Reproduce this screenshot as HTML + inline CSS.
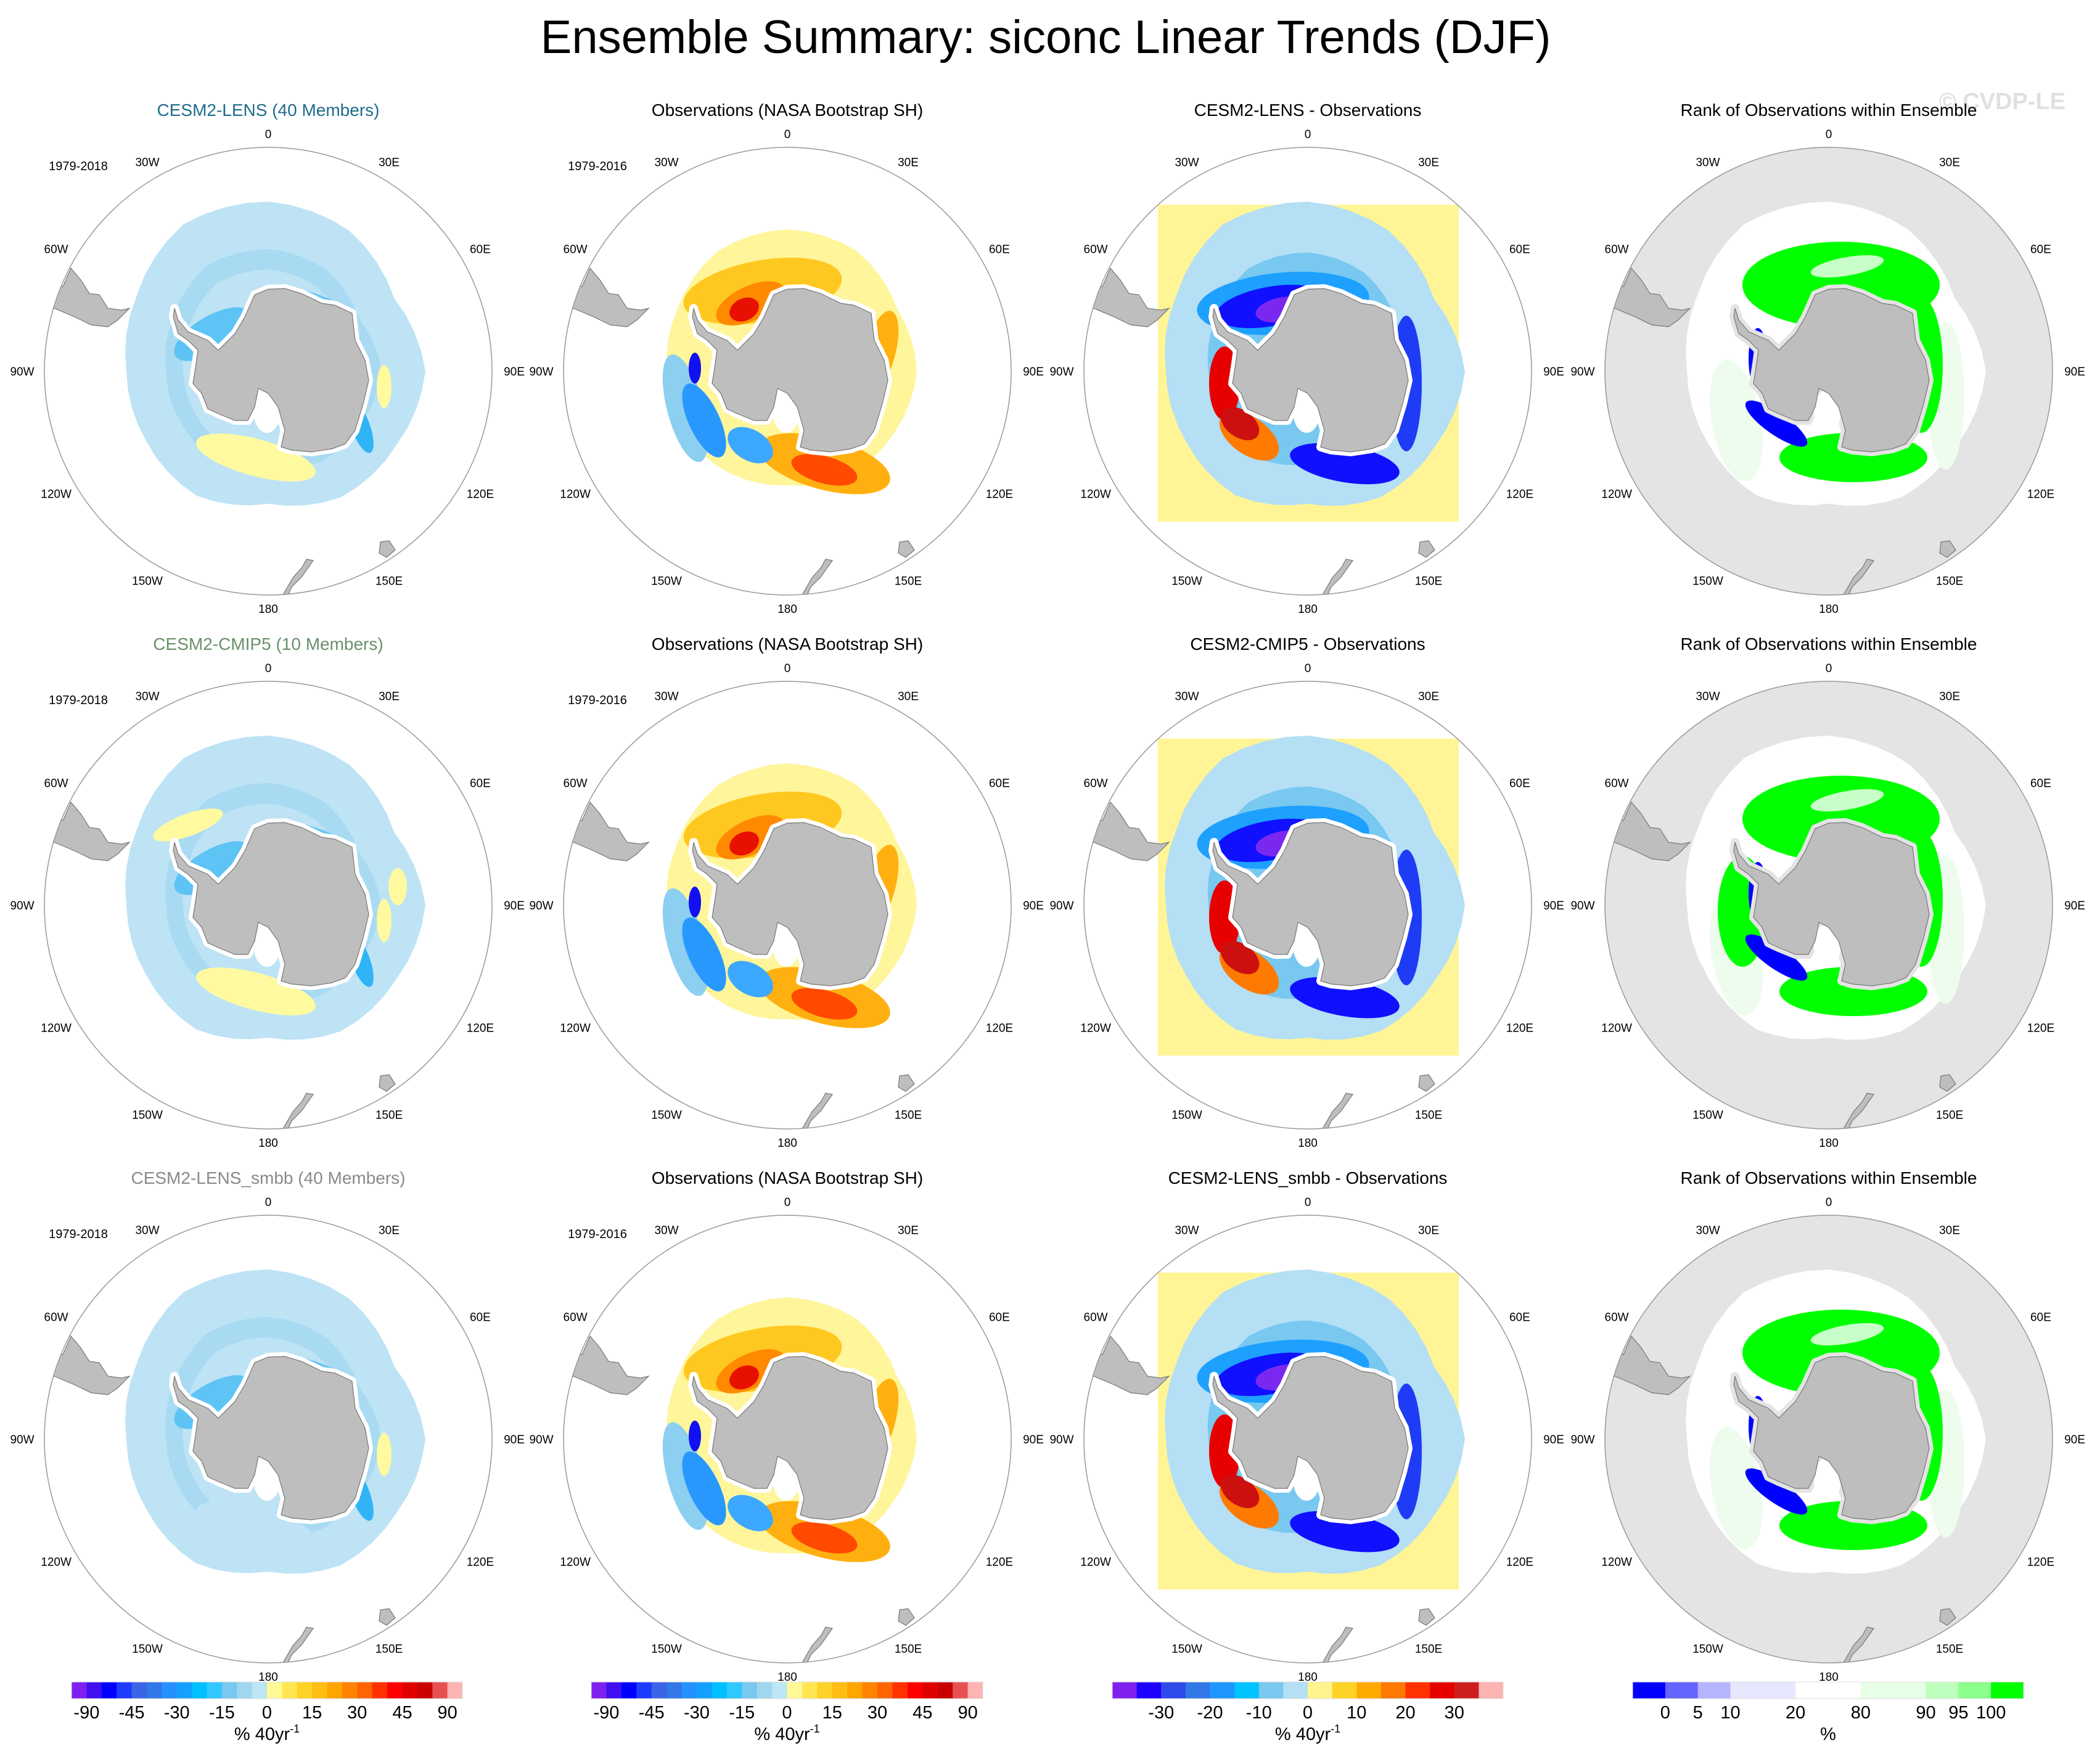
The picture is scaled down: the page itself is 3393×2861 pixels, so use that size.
<!DOCTYPE html>
<html><head><meta charset="utf-8"><style>
html,body{margin:0;padding:0;background:#fff;}
svg{display:block;font-family:"Liberation Sans",Arial,sans-serif;}
</style></head><body>
<svg id="fig" width="3393" height="2861" viewBox="0 0 3393 2861" xmlns="http://www.w3.org/2000/svg">
<text x="1696" y="86" font-size="76" text-anchor="middle" fill="#000">Ensemble Summary: siconc Linear Trends (DJF)</text>
<text x="3350" y="177" font-size="38" font-weight="bold" text-anchor="end" fill="#e0e0e0">© CVDP-LE</text>
<g id="panels"></g>
<g id="bars"></g>
</svg>
<script>
// ---- data arrays ----
const colCenters = [435, 1277, 2121, 2966];
const rowCenters = [602, 1468, 2334];
const rowTitles = [
  ["CESM2-LENS (40 Members)","Observations (NASA Bootstrap SH)","CESM2-LENS - Observations","Rank of Observations within Ensemble"],
  ["CESM2-CMIP5 (10 Members)","Observations (NASA Bootstrap SH)","CESM2-CMIP5 - Observations","Rank of Observations within Ensemble"],
  ["CESM2-LENS_smbb (40 Members)","Observations (NASA Bootstrap SH)","CESM2-LENS_smbb - Observations","Rank of Observations within Ensemble"]];
const titleColors = ["#1f6c8c","#6a8f6a","#8a8a8a"];
const yearLabels = ["1979-2018","1979-2016"];
const lonLabels = ["0","30E","60E","90E","120E","150E","180","150W","120W","90W","60W","30W"];
const trendColors = ["#8020f0","#4010f0","#0000ff","#1e3cff","#3c64e6","#3278e6","#2590ff","#14a0ff","#00bfff","#30c8ff","#78c8f0","#a0d7f0","#bee6f5","#fffa96","#ffe650","#ffd228","#ffbe14","#ffa500","#ff8200","#ff6400","#ff3200","#ff0000","#e10000","#c80000","#e65050","#ffb4b4"];
const trendTicks = ["-90","-45","-30","-15","0","15","30","45","90"];
const trendTickIdx = [1,4,7,10,13,16,19,22,25];
const diffColors = ["#8020f0","#1e00ff","#2d4beb","#3278e6","#1e96ff","#00c3ff","#78c8f0","#b4dff5","#fff58c","#ffd228","#ffaa00","#ff7800","#ff3200","#e60000","#cd1e1e","#ffb4b4"];
const diffTicks = ["-30","-20","-10","0","10","20","30"];
const diffTickIdx = [2,4,6,8,10,12,14];
const rankColors = ["#0000ff","#6464ff","#b4b4ff","#e6e6ff","#ffffff","#e6ffe6","#beffbe","#8cff8c","#00ff00"];
const rankBounds = [0,1,2,3,5,7,9,10,11,12];
const rankTicks = ["0","5","10","20","80","90","95","100"];
// geometry of features (relative px)
const antarctica = [[-38,-88],[-22,-124],[0,-133],[27,-134],[54,-126],[87,-110],[108,-107],[136,-94],[141,-50],[157,-18],[163,15],[154,53],[141,96],[125,118],[103,126],[70,131],[38,128],[21,123],[27,96],[16,58],[0,36],[-16,28],[-22,58],[-33,80],[-54,80],[-81,69],[-98,61],[-108,36],[-122,20],[-117,-12],[-114,-34],[-130,-50],[-146,-61],[-154,-88],[-152,-102],[-146,-83],[-130,-64],[-98,-50],[-81,-34],[-54,-61]];
const samerica = [[-333,-137],[-320,-167],[-304,-148],[-290,-126],[-274,-124],[-260,-102],[-238,-99],[-225,-102],[-244,-83],[-260,-72],[-287,-75],[-314,-88],[-347,-102],[-380,-80],[-380,-160]];
const nz = [[62,305],[73,307],[54,334],[38,350],[33,361],[22,372],[25,361],[40,335],[55,318]];
const tas = [[182,277],[196,275],[206,290],[192,302],[180,295]];
const iceOuter = [275,263,236,255,240,236,215,233,228,230,246,275];
const iceOuterObs = [230,225,205,210,200,195,185,190,195,195,205,225];
const NS="http://www.w3.org/2000/svg";
function el(tag,attrs,parent){const e=document.createElementNS(NS,tag);for(const k in attrs)e.setAttribute(k,attrs[k]);parent.appendChild(e);return e;}
function poly(pts,cx,cy){return pts.map(p=>(cx+p[0])+","+(cy+p[1])).join(" ");}
function blobPts(radii,cx,cy,sc){const n=radii.length,out=[];for(let i=0;i<n*4;i++){const a=i/(n*4)*2*Math.PI;const f=(i%4)/4;const r=(radii[Math.floor(i/4)]*(1-f)+radii[(Math.floor(i/4)+1)%n]*f)*sc;out.push((cx+r*Math.sin(a)).toFixed(1)+","+(cy-r*Math.cos(a)).toFixed(1));}return out.join(" ");}
const R=363;
const panels=document.getElementById('panels');
function ell(g,cx,cy,dx,dy,rx,ry,rot,fill){const e=el('ellipse',{cx:cx+dx,cy:cy+dy,rx:rx,ry:ry,fill:fill,transform:`rotate(${rot} ${cx+dx} ${cy+dy})`},g);}
let clipId=0;
rowCenters.forEach((cy,ri)=>{colCenters.forEach((cx,ci)=>{
  const g=el('g',{},panels);
  
  
  const t=el('text',{x:cx,y:cy-414,'font-size':28,'text-anchor':'middle',fill:ci==0?titleColors[ri]:'#000'},g);t.textContent=rowTitles[ri][ci];
  
  const id='c'+(clipId++);
  const cp=el('clipPath',{id:id},g);el('circle',{cx:cx,cy:cy,r:R},cp);
  const m=el('g',{'clip-path':`url(#${id})`},g);
  
  if(ci==3) el('circle',{cx:cx,cy:cy,r:R,fill:'#e4e4e4'},m);
  if(ci==0){
    el('polygon',{points:blobPts(iceOuter,cx,cy,1),fill:'#bde3f5'},m);
    el('polygon',{points:blobPts(iceOuter,cx,cy,0.72),fill:'#a8daf2'},m);
    el('polygon',{points:blobPts(iceOuter,cx,cy,0.6),fill:'#bde3f5'},m);
    ell(m,cx,cy,-90,-60,70,30,-30,'#5ec3f5');
    ell(m,cx,cy,60,-110,70,20,15,'#6cc6f2');
    ell(m,cx,cy,150,90,15,45,-20,'#30b4f5');
    ell(m,cx,cy,-20,140,100,30,15,ri==2?'#bde3f5':'#fffaa0');
    if(ri==1){ell(m,cx,cy,-130,-130,60,18,-20,'#fffaa0');ell(m,cx,cy,210,-30,15,30,0,'#fffaa0');}
    ell(m,cx,cy,188,25,12,35,0,'#fffaa0');
  } else if(ci==1){
    el('polygon',{points:blobPts(iceOuterObs,cx,cy,1),fill:'#fff59a'},m);
    ell(m,cx,cy,-40,-130,130,50,-10,'#ffc820');
    ell(m,cx,cy,-60,-110,60,28,-25,'#ff8a00');
    ell(m,cx,cy,-70,-100,25,18,-25,'#e81000');
    ell(m,cx,cy,60,150,110,42,15,'#ffb010');
    ell(m,cx,cy,60,160,55,22,15,'#ff4a00');
    ell(m,cx,cy,150,-30,25,70,15,'#ffb010');
    ell(m,cx,cy,-165,60,30,90,-15,'#8ccff0');
    ell(m,cx,cy,-135,80,25,65,-25,'#2898ff');
    ell(m,cx,cy,-150,-5,10,25,0,'#1010f0');
    ell(m,cx,cy,-60,120,40,25,30,'#3ca8ff');
  } else if(ci==2){
    el('rect',{x:cx-243,y:cy-270,width:488,height:514,fill:'#fff596'},m);
    el('polygon',{points:blobPts(iceOuter,cx,cy,1),fill:'#b4dff5'},m);
    el('polygon',{points:blobPts(iceOuter,cx,cy,0.7),fill:'#78c8f0'},m);
    ell(m,cx,cy,-40,-110,140,50,-5,'#1ea0ff');
    ell(m,cx,cy,-60,-105,90,32,-10,'#1010ff');
    ell(m,cx,cy,-40,-100,45,20,-10,'#7a28f0');
    ell(m,cx,cy,160,20,25,110,0,'#1e3cf5');
    ell(m,cx,cy,60,150,90,30,10,'#1010ff');
    ell(m,cx,cy,-135,20,25,60,0,'#e60000');
    ell(m,cx,cy,-95,105,55,30,35,'#ff7a00');
    ell(m,cx,cy,-110,85,35,22,35,'#cc1010');
  } else {
    el('polygon',{points:blobPts(iceOuter,cx,cy,1),fill:'#ffffff'},m);
    ell(m,cx,cy,-150,80,40,100,-10,'#eefcee');
    ell(m,cx,cy,190,40,30,120,0,'#eefcee');
    ell(m,cx,cy,20,-140,160,70,0,'#00ff00');
    ell(m,cx,cy,150,-10,35,110,0,'#00ff00');
    ell(m,cx,cy,40,140,120,40,0,'#00ff00');
    if(ri==1){ell(m,cx,cy,-140,10,40,90,0,'#00ff00');}
    ell(m,cx,cy,-115,-20,15,50,0,'#0000ff');
    ell(m,cx,cy,-85,85,60,18,35,'#0000ff');
    ell(m,cx,cy,30,-170,60,15,-10,'#c8ffc8');
  }
  // white coastal halo, land
  el('polygon',{points:poly(antarctica,cx,cy),fill:ci==3?'#e4e4e4':'#fff',stroke:ci==3?'#e4e4e4':'#fff','stroke-width':14,'stroke-linejoin':'round'},m);
  el('ellipse',{cx:cx-2,cy:cy+65,rx:22,ry:35,fill:'#fff'},m);
  [antarctica,samerica,nz,tas].forEach(p=>{el('polygon',{points:poly(p,cx,cy),fill:'#bebebe',stroke:'#777','stroke-width':1.2},m);});
  const c=el('circle',{cx:cx,cy:cy,r:R,fill:'none',stroke:'#999','stroke-width':1.5},g);
  
  lonLabels.forEach((lab,i)=>{const a=i*30*Math.PI/180;const d=R+22+14*Math.abs(Math.sin(a));
    const tx=el('text',{x:(cx+d*Math.sin(a)).toFixed(1),y:(cy-d*Math.cos(a)+7).toFixed(1),'font-size':19,'text-anchor':'middle'},g);tx.textContent=lab;
    });
  if(ci<2){const y=el('text',{x:cx-308,y:cy-326,'font-size':20,'text-anchor':'middle'},g);y.textContent=yearLabels[ci];
    }
});});
// colorbars
const bars=document.getElementById('bars');
const BY=2728,BH=27;
function unit(g,x,txt,sup){const t=el('text',{x:x,y:2822,'font-size':29,'text-anchor':'middle'},g);t.textContent=txt;
  
  if(sup){const s=el('tspan',{dy:-12,'font-size':18},t);s.textContent=sup;}}
function evenBar(x0,x1,cols,ticks,idx,name){const g=el('g',{},bars);
  const w=(x1-x0)/cols.length;cols.forEach((c,i)=>{const r=el('rect',{x:x0+i*w,y:BY,width:w+0.5,height:BH,fill:c},g);});
  el('rect',{x:x0,y:BY,width:x1-x0,height:BH,fill:'none',stroke:'#ddd','stroke-width':1},g);
  ticks.forEach((tk,i)=>{const t=el('text',{x:x0+idx[i]*w,y:2787,'font-size':29,'text-anchor':'middle'},g);t.textContent=tk;});
  unit(g,(x0+x1)/2,'% 40yr','-1');}
evenBar(116,750,trendColors,trendTicks,trendTickIdx,'colorbar-model-trend');
evenBar(959,1594,trendColors,trendTicks,trendTickIdx,'colorbar-obs-trend');
evenBar(1804,2438,diffColors,diffTicks,diffTickIdx,'colorbar-difference');
(function(){const g=el('g',{},bars);
  const x0=2648,x1=3282,u=(x1-x0)/12;
  rankColors.forEach((c,i)=>{const r=el('rect',{x:x0+rankBounds[i]*u,y:BY,width:(rankBounds[i+1]-rankBounds[i])*u+0.5,height:BH,fill:c},g);});
  el('rect',{x:x0,y:BY,width:x1-x0,height:BH,fill:'none',stroke:'#ddd','stroke-width':1},g);
  rankTicks.forEach((tk,i)=>{const t=el('text',{x:x0+rankBounds[i+1]*u,y:2787,'font-size':29,'text-anchor':'middle'},g);t.textContent=tk;});
  unit(g,(x0+x1)/2,'%',null);})();
</script>
</body></html>
